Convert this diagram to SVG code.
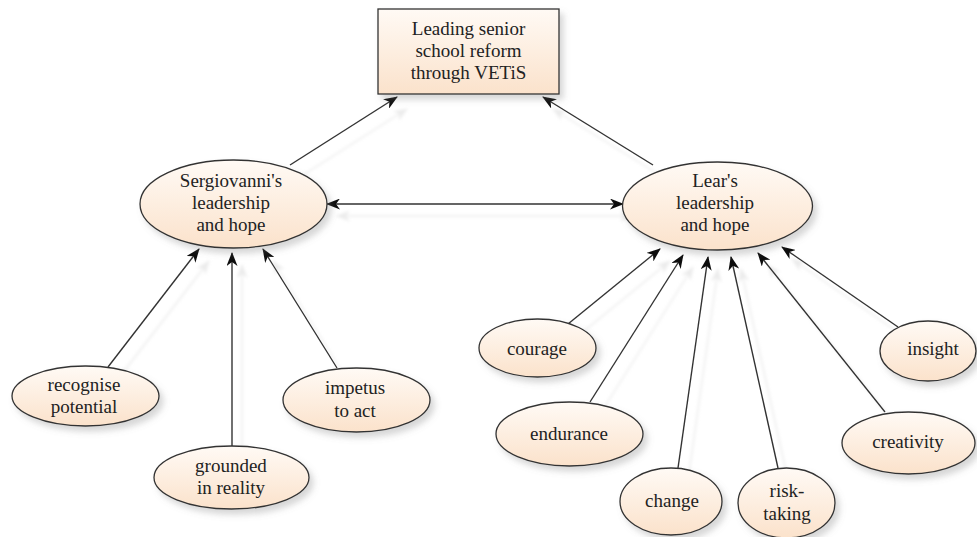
<svg xmlns="http://www.w3.org/2000/svg" width="977" height="537" viewBox="0 0 977 537">
  <defs>
    <linearGradient id="fillGrad" x1="0" y1="0" x2="0" y2="1">
      <stop offset="0" stop-color="#fffaf5"/>
      <stop offset="1" stop-color="#fbe2cb"/>
    </linearGradient>
    <filter id="shadow" x="-20%" y="-20%" width="150%" height="160%">
      <feDropShadow dx="4" dy="5" stdDeviation="3" flood-color="#7a7a7a" flood-opacity="0.3"/>
    </filter>
    <filter id="lineShadow" x="-20%" y="-20%" width="150%" height="150%">
      <feDropShadow dx="10" dy="12" stdDeviation="1.5" flood-color="#c8c8c8" flood-opacity="0.35"/>
    </filter>
    <marker id="arrow" viewBox="0 0 14 11" refX="13" refY="5.5" markerWidth="14" markerHeight="11" markerUnits="userSpaceOnUse" orient="auto-start-reverse">
      <path d="M0,0 L14,5.5 L0,11 L4,5.5 z" fill="#111"/>
    </marker>
    <style>
      .node { fill: url(#fillGrad); stroke: #333; stroke-width: 1.3; filter: url(#shadow); }
      .lbl { font-family: "Liberation Serif", "Times New Roman", serif; font-size: 19px; fill: #222; text-anchor: middle; }
      .conn { stroke: #333; stroke-width: 1.4; fill: none; marker-end: url(#arrow); }
      .both { marker-start: url(#arrow); }
    </style>
  </defs>
  <rect width="977" height="537" fill="#ffffff"/>

  <g id="connectors" filter="url(#lineShadow)">
    <line class="conn" x1="290" y1="165" x2="397" y2="97"/>
    <line class="conn" x1="653" y1="165" x2="543" y2="97"/>
    <line class="conn both" x1="327" y1="204" x2="623" y2="204"/>
    <line class="conn" x1="108" y1="367" x2="199" y2="249"/>
    <line class="conn" x1="232" y1="446" x2="232" y2="253"/>
    <line class="conn" x1="337" y1="368" x2="263" y2="249"/>
    <line class="conn" x1="568" y1="324" x2="660" y2="249"/>
    <line class="conn" x1="590" y1="402" x2="683" y2="255"/>
    <line class="conn" x1="678" y1="468" x2="708" y2="257"/>
    <line class="conn" x1="778" y1="468" x2="731" y2="257"/>
    <line class="conn" x1="885" y1="412" x2="758" y2="253"/>
    <line class="conn" x1="898" y1="327" x2="782" y2="247"/>
  </g>

  <g id="goal">
    <rect class="node" x="378" y="9" width="181" height="85"/>
    <text class="lbl" x="468.5" y="35">Leading senior</text>
    <text class="lbl" x="468.5" y="57">school reform</text>
    <text class="lbl" x="468.5" y="79">through VETiS</text>
  </g>

  <g id="sergiovanni">
    <ellipse class="node" cx="233.5" cy="204" rx="93.5" ry="44"/>
    <text class="lbl" x="231" y="187">Sergiovanni's</text>
    <text class="lbl" x="231" y="209">leadership</text>
    <text class="lbl" x="231" y="231">and hope</text>
  </g>

  <g id="lear">
    <ellipse class="node" cx="717.5" cy="206" rx="95" ry="44"/>
    <text class="lbl" x="715" y="187">Lear's</text>
    <text class="lbl" x="715" y="209">leadership</text>
    <text class="lbl" x="715" y="231">and hope</text>
  </g>

  <g id="recognise">
    <ellipse class="node" cx="85.5" cy="396" rx="73.5" ry="30"/>
    <text class="lbl" x="84" y="391">recognise</text>
    <text class="lbl" x="84" y="413">potential</text>
  </g>

  <g id="impetus">
    <ellipse class="node" cx="356.5" cy="400" rx="73.5" ry="32"/>
    <text class="lbl" x="355" y="394">impetus</text>
    <text class="lbl" x="355" y="417">to act</text>
  </g>

  <g id="grounded">
    <ellipse class="node" cx="231.5" cy="477.5" rx="77.5" ry="31.5"/>
    <text class="lbl" x="231" y="472">grounded</text>
    <text class="lbl" x="231" y="494">in reality</text>
  </g>

  <g id="courage">
    <ellipse class="node" cx="537.5" cy="348" rx="58.5" ry="29"/>
    <text class="lbl" x="537" y="355">courage</text>
  </g>

  <g id="insight">
    <ellipse class="node" cx="928" cy="351" rx="48" ry="30"/>
    <text class="lbl" x="933" y="355">insight</text>
  </g>

  <g id="endurance">
    <ellipse class="node" cx="569.5" cy="434" rx="73.5" ry="32"/>
    <text class="lbl" x="569" y="440">endurance</text>
  </g>

  <g id="creativity">
    <ellipse class="node" cx="908.5" cy="443" rx="66.5" ry="31"/>
    <text class="lbl" x="908" y="448">creativity</text>
  </g>

  <g id="change">
    <ellipse class="node" cx="671" cy="501.5" rx="51" ry="33.5"/>
    <text class="lbl" x="672" y="507">change</text>
  </g>

  <g id="risktaking">
    <ellipse class="node" cx="786.5" cy="503" rx="48.5" ry="35"/>
    <text class="lbl" x="787" y="497">risk-</text>
    <text class="lbl" x="787" y="520">taking</text>
  </g>
</svg>
